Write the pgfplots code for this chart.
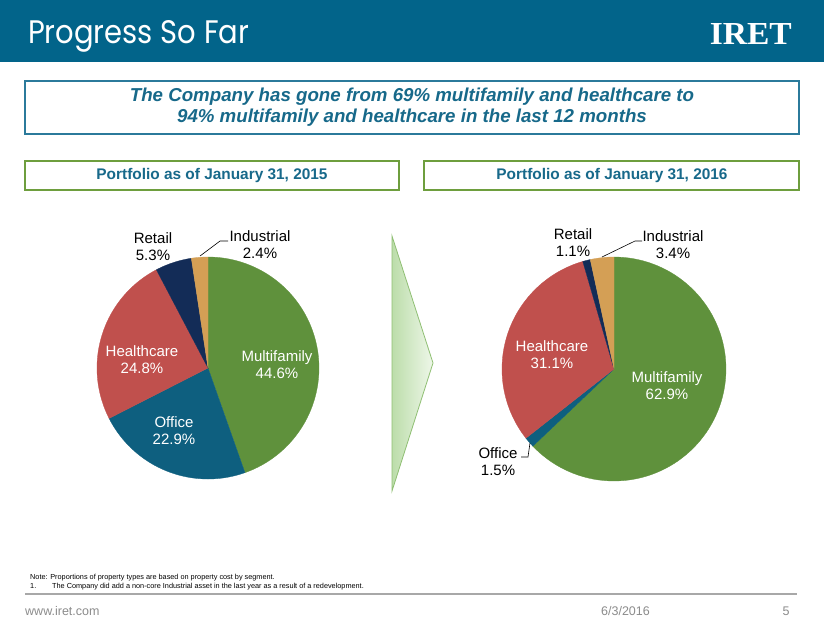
\documentclass[border=0pt]{standalone}
\usepackage{graphicx}
\usepackage{pgfplots}
\pgfplotsset{compat=1.18}
\usepackage{fontspec}
\setmainfont{Liberation Sans}
\newfontfamily\titlefont{Poppins}
\newfontfamily\logofont{Liberation Serif}
\definecolor{hdr}{HTML}{02648A}
\definecolor{cmf}{HTML}{5F913C}
\definecolor{coff}{HTML}{0E5F7F}
\definecolor{chc}{HTML}{C0504D}
\definecolor{cret}{HTML}{132C57}
\definecolor{cind}{HTML}{D49F55}
\definecolor{boxteal}{HTML}{2B7A9B}
\definecolor{txtteal}{HTML}{17698A}
\definecolor{boxgreen}{HTML}{6E9E3E}
\definecolor{arrL}{HTML}{BCDDAA}
\definecolor{arrR}{HTML}{EEF7E9}
\definecolor{arrD}{HTML}{8FBF73}
\definecolor{footgray}{HTML}{8C8C8C}
\definecolor{linegray}{HTML}{A8A8A8}
% #1 cumulative percent before slice, #2 slice percent, #3 colour
\newcommand{\slice}[3]{%
  \pgfmathsetmacro\sa{90-3.6*(#1)}%
  \pgfmathsetmacro\sb{90-3.6*(#1+#2)}%
  \edef\doslice{\noexpand\addplot[fill=#3,draw=#3,line width=0.3pt,domain=\sb:\sa,samples=90,variable=\noexpand\t] ({cos(\noexpand\t)},{sin(\noexpand\t)}) -- (axis cs:0,0) -- cycle;}%
  \doslice}
\pgfplotsset{pieaxis/.style={anchor=center, width=222pt, height=222pt, scale only axis,
  xmin=-1,xmax=1,ymin=-1,ymax=1, hide axis, clip=false}}
\begin{document}
\begin{tikzpicture}
\begin{scope}[x=1pt,y=-1pt]
\fill[white] (0,0) rectangle (824,637);
\fill[hdr] (0,0) rectangle (824,62);
\node[anchor=base west, white, inner sep=0] at (28,43) {\resizebox{221pt}{23pt}{\titlefont Progress So Far}};
\node[anchor=base east, white, inner sep=0] at (792,44) {\resizebox{82pt}{21pt}{\logofont\bfseries IRET}};
\draw[boxteal, line width=1.5pt] (25,81) rectangle (799,134);
\node[align=center, text=txtteal, font=\fontsize{18.7}{21}\selectfont\bfseries\itshape] at (412,107.5)
  {The Company has gone from 69\% multifamily and healthcare to\\94\% multifamily and healthcare in the last 12 months};
\draw[boxgreen, line width=2pt] (25,161) rectangle (399,190);
\draw[boxgreen, line width=2pt] (424,161) rectangle (799,190);
\node[text=txtteal, font=\fontsize{15.4}{18}\selectfont\bfseries] at (212,176) {Portfolio as of January 31, 2015};
\node[text=txtteal, font=\fontsize{15.4}{18}\selectfont\bfseries] at (612,176) {Portfolio as of January 31, 2016};
\shade[left color=arrL, right color=arrR, draw=arrD, line width=0.8pt] (392,236) -- (433,363) -- (392,491) -- cycle;
% notes and footer
\node[anchor=base west, inner sep=0, font=\fontsize{7.3}{9}\selectfont] at (30,579) {Note: Proportions of property types are based on property cost by segment.};
\node[anchor=base west, inner sep=0, font=\fontsize{7.3}{9}\selectfont] at (30,588.5) {1.};
\node[anchor=base west, inner sep=0, font=\fontsize{7.3}{9}\selectfont] at (52,588.5) {The Company did add a non-core Industrial asset in the last year as a result of a redevelopment.};
\draw[linegray, line width=1.5pt] (25,594) -- (797,594);
\node[anchor=base west, inner sep=0, text=footgray, font=\fontsize{12.5}{15}\selectfont] at (25,615) {www.iret.com};
\node[anchor=base, inner sep=0, text=footgray, font=\fontsize{12.5}{15}\selectfont] at (625.5,615) {6/3/2016};
\node[anchor=base, inner sep=0, text=footgray, font=\fontsize{12.5}{15}\selectfont] at (786,615) {5};
\end{scope}
\begin{axis}[pieaxis, at={(208pt,-368pt)}]
\slice{0}{44.6}{cmf}
\slice{44.6}{22.9}{coff}
\slice{67.5}{24.8}{chc}
\slice{92.3}{5.3}{cret}
\slice{97.6}{2.4}{cind}
\end{axis}
\begin{axis}[pieaxis, at={(614pt,-369pt)}, width=224pt, height=224pt]
\slice{0}{62.9}{cmf}
\slice{62.9}{1.5}{coff}
\slice{64.4}{31.1}{chc}
\slice{95.5}{1.1}{cret}
\slice{96.6}{3.4}{cind}
\end{axis}
\begin{scope}[x=1pt,y=-1pt]
\begin{scope}[every node/.style={align=center, font=\fontsize{15}{17}\selectfont}]
\node[white] at (277,364.5) {Multifamily\\44.6\%};
\node[white] at (142,359.5) {Healthcare\\24.8\%};
\node[white] at (174,430.5) {Office\\22.9\%};
\node at (153,246.5) {Retail\\5.3\%};
\node at (260,245) {Industrial\\2.4\%};
\node[white] at (667,385.5) {Multifamily\\62.9\%};
\node[white] at (552,354.5) {Healthcare\\31.1\%};
\node at (498,461.5) {Office\\1.5\%};
\node at (573,243) {Retail\\1.1\%};
\node at (673,245) {Industrial\\3.4\%};
\end{scope}
\draw[black, line width=0.6pt] (200,256) -- (220,241) -- (228,241);
\draw[black, line width=0.6pt] (602,257) -- (635,241) -- (642,241);
\draw[black, line width=0.6pt] (530,443) -- (528,457) -- (521,457);
\end{scope}
\end{tikzpicture}
\end{document}
